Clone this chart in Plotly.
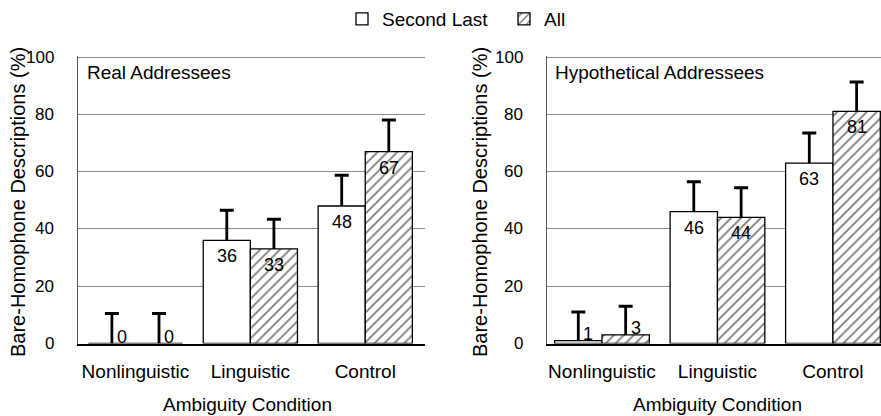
import plotly.graph_objects as go

# ---- data ----
categories = ["Nonlinguistic", "Linguistic", "Control"]
series_names = ["Second Last", "All"]

real_second_last = [0, 36, 48]
real_all = [0, 33, 67]
real_err_second_last = [10.5, 10.5, 10.7]
real_err_all = [10.5, 10.4, 11.0]

hyp_second_last = [1, 46, 63]
hyp_all = [3, 44, 81]
hyp_err_second_last = [10.0, 10.5, 10.5]
hyp_err_all = [10.0, 10.4, 10.3]

y_ticks = [0, 20, 40, 60, 80, 100]
panel_titles = ["Real Addressees", "Hypothetical Addressees"]
x_title = "Ambiguity Condition"
y_title = "Bare-Homophone Descriptions (%)"

# ---- layout constants ----
W, H = 881, 416
FONT = "Liberation Sans, Arial, Helvetica, sans-serif"
left_dom = [78 / W, 425 / W]
right_dom = [547 / W, 1.0]
left_range = [-0.5, 2.52]
right_range = [-0.476, 2.416]
y_range = [0, 100.5]
y_dom = [(H - 343.5) / H, (H - 55.6) / H]
bargap = 0.18

fig = go.Figure()

panels = [
    ("x", "y", real_second_last, real_all, real_err_second_last, real_err_all, left_dom, left_range),
    ("x2", "y2", hyp_second_last, hyp_all, hyp_err_second_last, hyp_err_all, right_dom, right_range),
]

annotations = []
for pi, (xa, ya, sl, al, esl, eal, dom, rng) in enumerate(panels):
    for si, (vals, errs) in enumerate([(sl, esl), (al, eal)]):
        hatched = si == 1
        fig.add_trace(go.Bar(
            x=categories, y=vals, name=series_names[si],
            xaxis=xa, yaxis=ya,
            showlegend=(pi == 0),
            legendgroup=series_names[si],
            offsetgroup=str(si),
            marker=dict(
                color="white",
                line=dict(color="black", width=1.3),
                pattern=dict(shape="/" if hatched else "", fgcolor="black",
                             bgcolor="white", size=7, solidity=0.26, fillmode="overlay"),
            ),
        ))
        # error bars: upper whisker only, with a cap at the top
        tops = [v + e for v, e in zip(vals, errs)]
        fig.add_trace(go.Scatter(
            x=categories, y=tops, xaxis=xa, yaxis=ya, mode="markers",
            showlegend=False, hoverinfo="skip", offsetgroup=str(si),
            marker=dict(symbol="line-ew", size=10, color="black",
                        line=dict(color="black", width=3)),
            error_y=dict(type="data", symmetric=False, array=[0] * len(errs),
                         arrayminus=errs, color="black", thickness=2.8, width=0),
        ))
        # value labels
        px_per_unit = (dom[1] - dom[0]) * W / (rng[1] - rng[0])
        bar_w = (1 - bargap) / 2
        off = (si - 0.5) * bar_w * px_per_unit
        for c, v in zip(categories, vals):
            if v < 10:
                annotations.append(dict(
                    x=c, y=v, xref=xa, yref=ya, text=str(v), showarrow=False,
                    xshift=off + 10, yshift=7, yanchor="middle", xanchor="center",
                    font=dict(family=FONT, size=18, color="black")))
            else:
                annotations.append(dict(
                    x=c, y=v, xref=xa, yref=ya, text=str(v), showarrow=False,
                    xshift=off, yshift=-16, yanchor="middle", xanchor="center",
                    font=dict(family=FONT, size=18, color="black")))
    # y tick labels, placed on the y scale of each panel
    for t in y_ticks:
        annotations.append(dict(
            x=dom[0], y=t, xref="paper", yref=ya, text=str(t), showarrow=False,
            xanchor="right", yanchor="middle", xshift=-22,
            font=dict(family=FONT, size=17, color="black")))

# panel titles
annotations.append(dict(x=85 / W, y=(H - 72) / H, xref="paper", yref="paper", text=panel_titles[0],
                        showarrow=False, xanchor="left", yanchor="middle",
                        font=dict(family=FONT, size=19, color="black")))
annotations.append(dict(x=553 / W, y=(H - 72) / H, xref="paper", yref="paper", text=panel_titles[1],
                        showarrow=False, xanchor="left", yanchor="middle",
                        font=dict(family=FONT, size=19, color="black")))
# axis titles
for cx in [247, 717]:
    annotations.append(dict(x=cx / W, y=(H - 404) / H, xref="paper", yref="paper", text=x_title,
                            showarrow=False, xanchor="center", yanchor="middle",
                            font=dict(family=FONT, size=19, color="black")))
for cx in [18, 480]:
    annotations.append(dict(x=cx / W, y=(H - 202) / H, xref="paper", yref="paper", text=y_title,
                            showarrow=False, xanchor="center", yanchor="middle", textangle=-90,
                            font=dict(family=FONT, size=20, color="black")))

xcommon = dict(type="category", showgrid=False, showline=True, linecolor="black", linewidth=2,
               ticks="outside", ticklen=10, tickcolor="white", automargin=False,
               tickfont=dict(family=FONT, size=19, color="black"))
ycommon = dict(range=y_range, domain=y_dom, tickvals=y_ticks, showgrid=True, gridcolor="#8c8c8c",
               gridwidth=1, zeroline=False, showline=True, linecolor="#555555", linewidth=1.2,
               ticks="", showticklabels=False, automargin=False)

fig.update_layout(
    template="none",
    width=W, height=H,
    margin=dict(l=0, r=0, t=0, b=0),
    paper_bgcolor="white", plot_bgcolor="white",
    barmode="group", bargap=bargap, bargroupgap=0,
    scattermode="group", scattergap=bargap,
    font=dict(family=FONT, color="black"),
    xaxis=dict(domain=left_dom, range=left_range, anchor="y", **xcommon),
    xaxis2=dict(domain=right_dom, range=right_range, anchor="y2", **xcommon),
    yaxis=dict(anchor="x", **ycommon),
    yaxis2=dict(anchor="x2", **ycommon),
    legend=dict(orientation="h", x=342 / W, xanchor="left", y=1.0, yanchor="top",
                entrywidth=117, entrywidthmode="pixels",
                font=dict(family=FONT, size=19, color="black"), bgcolor="rgba(0,0,0,0)"),
    annotations=annotations,
)

fig.write_html("out.html")
